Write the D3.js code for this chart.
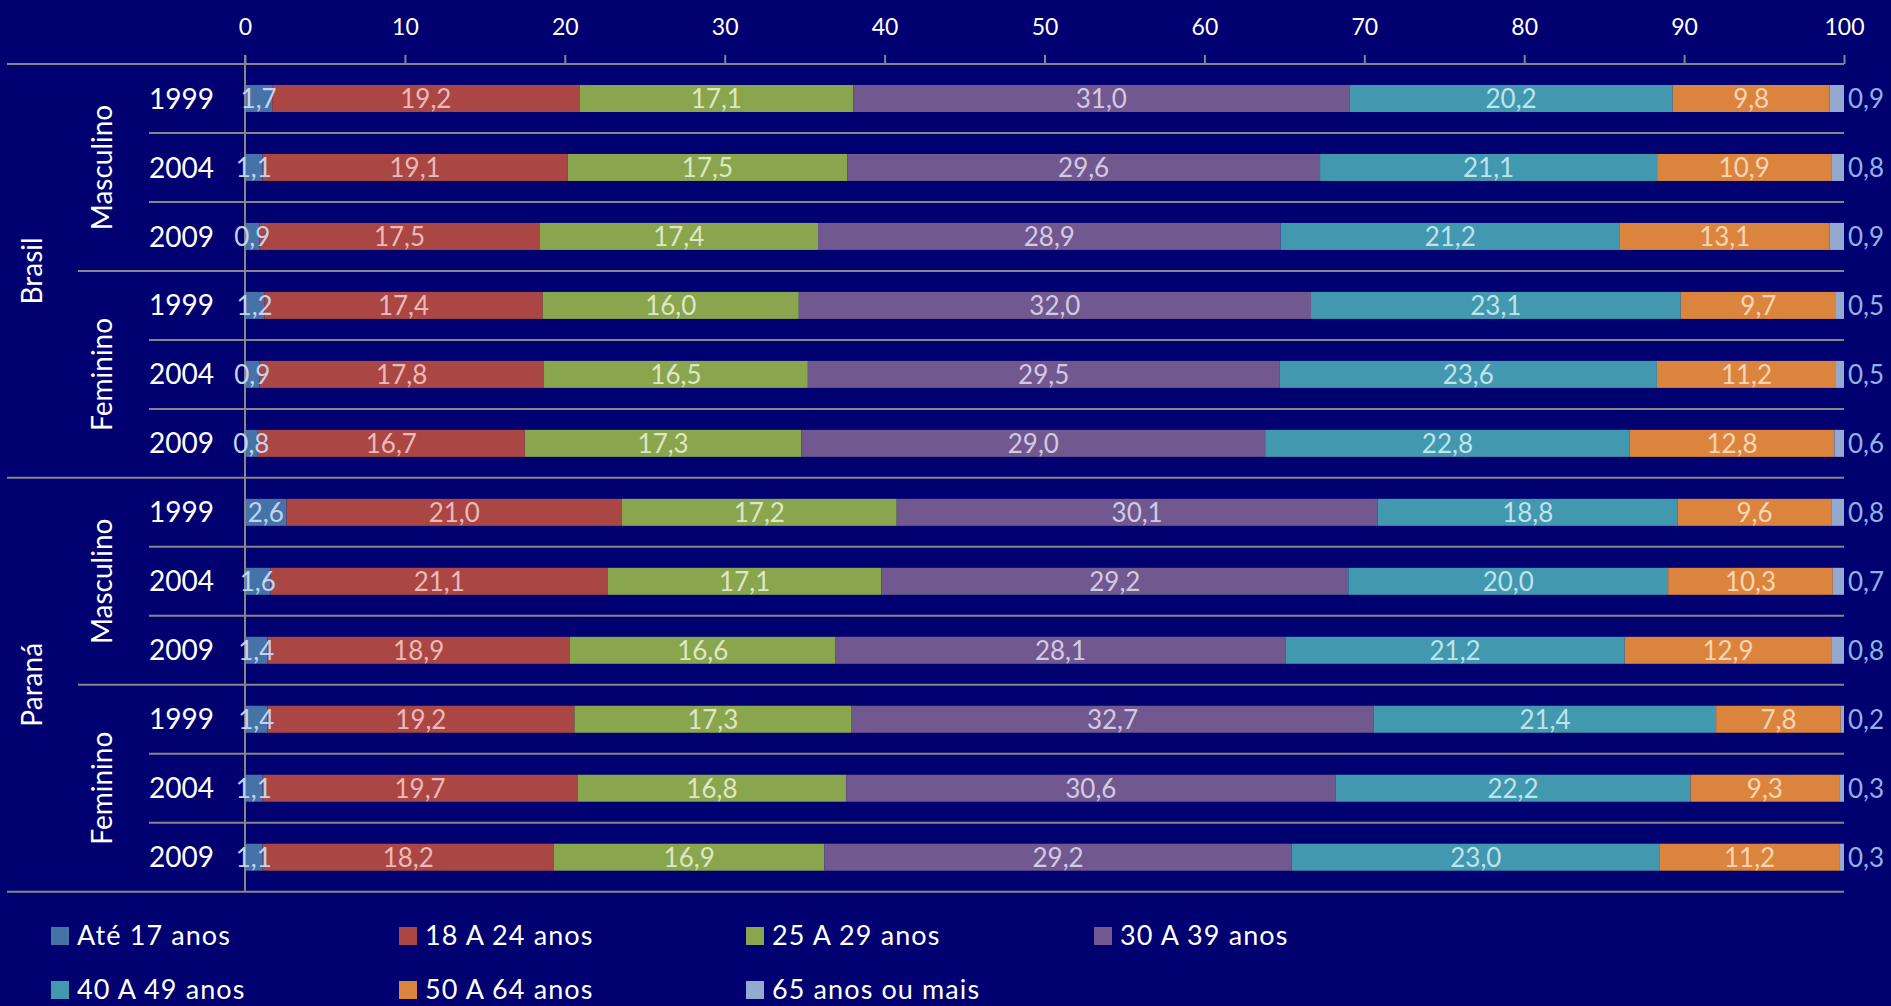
<!DOCTYPE html>
<html>
<head>
<meta charset="utf-8">
<script src="https://cdn.jsdelivr.net/npm/d3@7"></script>
<style>
  html, body { margin: 0; padding: 0; background: #000070; overflow: hidden; }
  svg { display: block; font-family: Lato, "Open Sans", sans-serif; }
</style>
</head>
<body>
<svg id="chart" width="1891" height="1006"></svg>
<script>
// ---- Data ----
const regions = ["Brasil", "Paraná"];
const sexes = ["Masculino", "Feminino"];
const years = ["1999", "2004", "2009"];
const seriesNames = ["Até 17 anos", "18 A 24 anos", "25 A 29 anos", "30 A 39 anos", "40 A 49 anos", "50 A 64 anos", "65 anos ou mais"];
const xTickLabels = [0, 10, 20, 30, 40, 50, 60, 70, 80, 90, 100];

// rows: Brasil-Masc 1999/2004/2009, Brasil-Fem ..., Paraná-Masc ..., Paraná-Fem ...
const ate17   = [1.7, 1.1, 0.9, 1.2, 0.9, 0.8, 2.6, 1.6, 1.4, 1.4, 1.1, 1.1];
const a18a24  = [19.2, 19.1, 17.5, 17.4, 17.8, 16.7, 21.0, 21.1, 18.9, 19.2, 19.7, 18.2];
const a25a29  = [17.1, 17.5, 17.4, 16.0, 16.5, 17.3, 17.2, 17.1, 16.6, 17.3, 16.8, 16.9];
const a30a39  = [31.0, 29.6, 28.9, 32.0, 29.5, 29.0, 30.1, 29.2, 28.1, 32.7, 30.6, 29.2];
const a40a49  = [20.2, 21.1, 21.2, 23.1, 23.6, 22.8, 18.8, 20.0, 21.2, 21.4, 22.2, 23.0];
const a50a64  = [9.8, 10.9, 13.1, 9.7, 11.2, 12.8, 9.6, 10.3, 12.9, 7.8, 9.3, 11.2];
const a65mais = [0.9, 0.8, 0.9, 0.5, 0.5, 0.6, 0.8, 0.7, 0.8, 0.2, 0.3, 0.3];

const seriesValues = [ate17, a18a24, a25a29, a30a39, a40a49, a50a64, a65mais];
const colors = ["#4572A7", "#AA4643", "#89A54E", "#71588F", "#4198AF", "#DB843D", "#93A9CF"];
const labelColors = ["#c3d3ee", "#ebb9b8", "#dce8c2", "#d3c9e3", "#bfe3ec", "#fcd6b3", "#8fb2e6"];

// ---- Build rows ----
const rows = [];
regions.forEach((r, ri) => sexes.forEach((s, si) => years.forEach((yr, yi) => {
  const idx = ri * 6 + si * 3 + yi;
  const row = { key: r + "|" + s + "|" + yr, region: r, sex: s, year: yr };
  seriesNames.forEach((n, k) => row[n] = seriesValues[k][idx]);
  rows.push(row);
})));

const svg = d3.select("#chart");
const xLeft = 245, xRight = 1844, yTop = 64, yBottom = 891.7;

const x = d3.scaleLinear().domain([0, 1]).range([xLeft, xRight]);
const y = d3.scaleBand().domain(rows.map(d => d.key)).range([yTop, yBottom]).padding(0);
const bw = y.bandwidth();
const barH = 27;

const stack = d3.stack().keys(seriesNames).offset(d3.stackOffsetExpand);
const stacked = stack(rows);

const locale = d3.formatLocale({ decimal: ",", thousands: ".", grouping: [3], currency: ["R$", ""] });
const fmt = locale.format(".1f");

const gridColor = "#868686";

// ---- Horizontal separators ----
const seps = d3.range(0, rows.length + 1);
svg.append("g").selectAll("line").data(seps).join("line")
  .attr("x1", i => (i % 6 === 0) ? 7 : (i % 3 === 0 ? 78 : 149))
  .attr("x2", xRight)
  .attr("y1", i => yTop + i * bw)
  .attr("y2", i => yTop + i * bw)
  .attr("stroke", gridColor)
  .attr("stroke-width", 2);

// ---- Bars ----
const gSeries = svg.append("g").selectAll("g").data(stacked).join("g")
  .attr("fill", (d, i) => colors[i]);
gSeries.selectAll("rect").data(d => d.map(v => ({ v, key: v.data.key }))).join("rect")
  .attr("x", d => x(d.v[0]))
  .attr("width", d => x(d.v[1]) - x(d.v[0]))
  .attr("y", d => y(d.key) + (bw - barH) / 2)
  .attr("height", barH);

// ---- Vertical axis line ----
svg.append("line")
  .attr("x1", x(0)).attr("x2", x(0))
  .attr("y1", yTop - 9).attr("y2", yBottom)
  .attr("stroke", gridColor).attr("stroke-width", 2);

// ---- Top axis ----
const xAxis = d3.axisTop(x)
  .tickValues(xTickLabels.map(v => v / 100))
  .tickFormat(d => String(Math.round(d * 100)))
  .tickSize(9)
  .tickPadding(20);
const ax = svg.append("g").attr("transform", `translate(0,${yTop})`).call(xAxis);
ax.select(".domain").remove();
ax.selectAll(".tick line").attr("stroke", gridColor).attr("stroke-width", 2);
ax.selectAll(".tick text")
  .attr("fill", "#ffffff")
  .attr("font-size", 23)
  .attr("font-family", "Lato, sans-serif");

// ---- Data labels ----
const gLabels = svg.append("g").attr("font-size", 26);
stacked.forEach((ser, si) => {
  const last = si === stacked.length - 1;
  gLabels.append("g").selectAll("text").data(ser).join("text")
    .attr("x", d => last ? x(1) + 4 : x((d[0] + d[1]) / 2))
    .attr("y", d => y(d.data.key) + bw / 2)
    .attr("dy", "0.36em")
    .attr("text-anchor", last ? "start" : "middle")
    .attr("fill", labelColors[si])
    .text(d => fmt(d.data[ser.key]));
});

// ---- Year labels ----
svg.append("g").selectAll("text").data(rows).join("text")
  .attr("x", 214)
  .attr("y", d => y(d.key) + bw / 2)
  .attr("dy", "0.36em")
  .attr("text-anchor", "end")
  .attr("fill", "#ffffff")
  .attr("font-size", 28)
  .text(d => d.year);

// ---- Sex labels ----
const sexGroups = [];
regions.forEach((r, ri) => sexes.forEach((s, si) => sexGroups.push({ r, s, i: ri * 2 + si })));
svg.append("g").selectAll("text").data(sexGroups).join("text")
  .attr("transform", d => `translate(112,${yTop + (d.i * 3 + 1.5) * bw}) rotate(-90)`)
  .attr("text-anchor", "middle")
  .attr("fill", "#ffffff")
  .attr("font-size", 28)
  .text(d => d.s);

// ---- Region labels ----
svg.append("g").selectAll("text").data(regions).join("text")
  .attr("transform", (d, i) => `translate(42,${yTop + (i * 6 + 3) * bw}) rotate(-90)`)
  .attr("text-anchor", "middle")
  .attr("fill", "#ffffff")
  .attr("font-size", 28)
  .text(d => d);

// ---- Legend ----
const legX = [51, 399, 746, 1094];
const legY = [927, 981];
const leg = svg.append("g").selectAll("g").data(seriesNames).join("g")
  .attr("transform", (d, i) => `translate(${legX[i % 4]},${legY[Math.floor(i / 4)]})`);
leg.append("rect").attr("width", 18).attr("height", 18).attr("fill", (d, i) => colors[i]);
leg.append("text")
  .attr("x", 26).attr("y", 18)
  .attr("fill", "#ffffff")
  .attr("font-size", 27)
  .attr("letter-spacing", 1.1)
  .text(d => d);
</script>
</body>
</html>
